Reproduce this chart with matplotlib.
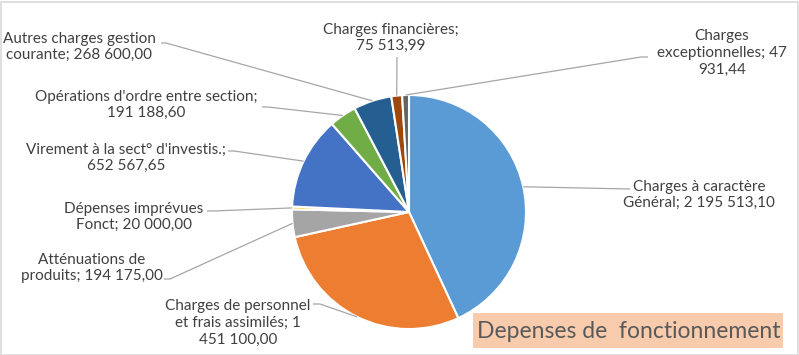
import textwrap
import numpy as np
import matplotlib
matplotlib.use("Agg")
import matplotlib.pyplot as plt
from matplotlib.patches import Rectangle

# ---- data ----
categories = [
    "Charges à caractère Général",
    "Charges de personnel et frais assimilés",
    "Atténuations de produits",
    "Dépenses imprévues Fonct",
    "Virement à la sect° d'investis.",
    "Opérations d'ordre entre section",
    "Autres charges gestion courante",
    "Charges financières",
    "Charges exceptionnelles",
]
values = [2195513.10, 1451100.00, 194175.00, 20000.00, 652567.65,
          191188.60, 268600.00, 75513.99, 47931.44]
colors = ["#5B9BD5", "#ED7D31", "#A5A5A5", "#FFC000", "#4472C4",
          "#70AD47", "#255E91", "#9E480E", "#636363"]
title = "Depenses de  fonctionnement"

# ---- layout (pixels, from top-left) ----
W, H = 799, 355
CX, CY, R = 409, 212, 117
wrap_widths = [22, 21, 20, 18, 32, 33, 22, 21, 19]
text_pos = [(699, 195), (238, 323), (92, 268), (134, 217), (126, 158),
            (146, 105), (79, 47), (391, 38), (722, 53)]
anchor_pos = [(630, 189), (313, 304), (164, 279), (207, 211), (228, 151),
              (262, 107), (161, 43), (397, 57), (648, 57)]
elbow_pos = [None, (320, 304), (170, 279), (213, 211), (234, 151),
             (268, 107), (166, 43), None, (641, 57)]

FONT = "Lato"
TXT = "#404040"
LEAD = "#A6A6A6"


def fmt(v):
    s = f"{v:,.2f}"
    return s.replace(",", " ").replace(".", ",")


def px(x, y):
    return ((x - CX) / R, (CY - y) / R)


fig = plt.figure(figsize=(W / 100, H / 100), dpi=100)
ax = fig.add_axes([0, 0, 1, 1])

wedges, _ = ax.pie(values, colors=colors, startangle=90, counterclock=False,
                   radius=1.0, center=(0, 0),
                   wedgeprops=dict(edgecolor="white", linewidth=1.5))
ax.set_xlim(-CX / R, (W - CX) / R)
ax.set_ylim(-(H - CY) / R, CY / R)
ax.set_aspect("equal", adjustable="datalim")
ax.axis("off")

for i, w in enumerate(wedges):
    mid = np.deg2rad((w.theta1 + w.theta2) / 2)
    wx, wy = np.cos(mid), np.sin(mid)
    pts = [px(*anchor_pos[i])]
    if elbow_pos[i] is not None:
        pts.append(px(*elbow_pos[i]))
    pts.append((wx, wy))
    xs, ys = zip(*pts)
    ax.plot(xs, ys, color=LEAD, lw=0.9, zorder=1, solid_capstyle="butt")
    label = textwrap.fill(f"{categories[i]}; {fmt(values[i])}",
                          width=wrap_widths[i], break_long_words=False)
    tx, ty = px(*text_pos[i])
    ax.text(tx, ty, label, ha="center", va="center", fontsize=11,
            family=FONT, color=TXT, linespacing=1.24)

# title box
bx0, by0 = px(473, 348)
bx1, by1 = px(783, 313)
ax.add_patch(Rectangle((bx0, by0), bx1 - bx0, by1 - by0,
                       facecolor="#F8CBAD", edgecolor="none", zorder=2))
ttx, tty = px(629, 331)
ax.text(ttx, tty, title, ha="center", va="center", fontsize=16.5,
        family=FONT, color="#595959", zorder=3)

# outer frame
fig.patches.append(Rectangle((0.5 / W, 0.5 / H), 1 - 2 / W, 1 - 2 / H,
                             transform=fig.transFigure, fill=False,
                             edgecolor="#D9D9D9", linewidth=1.2))

fig.savefig("out.png", dpi=100)
